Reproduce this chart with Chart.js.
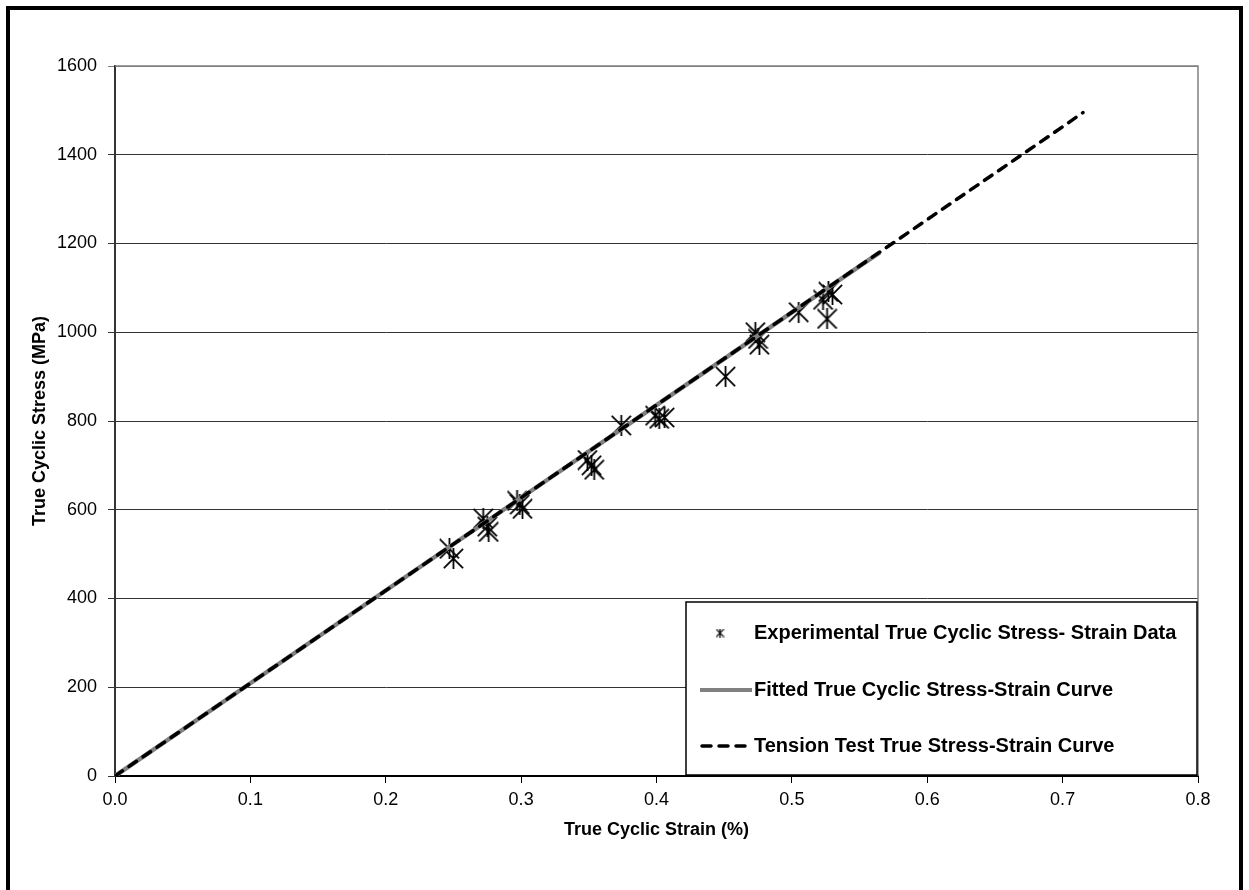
<!DOCTYPE html>
<html>

<head>
  <meta charset="UTF-8">
  <title>True Cyclic Stress-Strain</title>
  <style>
    body {
      margin: 0;
      background: #ffffff;
    }
  </style>
</head>

<script src="https://cdn.jsdelivr.net/npm/chart.js@4.4.0/dist/chart.umd.min.js"></script>

<body>

  <canvas id="myChart" width="1249" height="890"></canvas>

  <script>

    // experimental points (strain %, stress MPa)
    var expStrain = [0.247, 0.250, 0.272, 0.275, 0.276, 0.297, 0.299, 0.301, 0.349, 0.352, 0.354, 0.374,
      0.399, 0.402, 0.406, 0.451, 0.473, 0.475, 0.476, 0.505, 0.523, 0.527, 0.526, 0.530];
    var expStress = [512, 490, 580, 562, 550, 620, 612, 602, 712, 700, 690, 790,
      812, 805, 808, 900, 1000, 985, 972, 1045, 1073, 1091, 1030, 1085];

    // fitted cyclic curve
    var fitStrain = [0, 0.1, 0.2, 0.3, 0.4, 0.5, 0.565];
    var fitStress = [0, 209, 418, 627, 836, 1045, 1180];

    // tension test curve
    var tenStrain = [0, 0.1, 0.2, 0.3, 0.4, 0.5, 0.6, 0.7, 0.715];
    var tenStress = [0, 209, 418, 627, 836, 1045, 1254, 1463, 1495];

    var legendLabels = [
      "Experimental True Cyclic Stress- Strain Data",
      "Fitted True Cyclic Stress-Strain Curve",
      "Tension Test True Stress-Strain Curve"
    ];

    function toPoints(xs, ys) {
      var pts = [];
      for (var i = 0; i < xs.length; i++) {
        pts.push({ x: xs[i], y: ys[i] });
      }
      return pts;
    }

    // asterisk marker: an X with a vertical bar
    function makeStar(size, lw) {
      var c = document.createElement("canvas");
      c.width = size;
      c.height = size;
      var g = c.getContext("2d");
      g.strokeStyle = "#000";
      g.lineWidth = lw;
      var p = lw / 2;
      g.beginPath();
      g.moveTo(p, p); g.lineTo(size - p, size - p);
      g.moveTo(size - p, p); g.lineTo(p, size - p);
      g.moveTo(size / 2, 0); g.lineTo(size / 2, size);
      g.stroke();
      return c;
    }

    var bigStar = makeStar(21, 1.8);
    var smallStar = makeStar(9, 1.3);

    var FONT = "'Liberation Sans', Arial, sans-serif";

    var framePlugin = {
      id: "frame",
      beforeDraw: function (chart) {
        var ctx = chart.ctx;
        ctx.save();
        ctx.fillStyle = "#fff";
        ctx.fillRect(0, 0, chart.width, chart.height);
        ctx.restore();
      },
      afterDraw: function (chart) {
        var ctx = chart.ctx;
        var a = chart.chartArea;
        ctx.save();
        // outer frame
        ctx.strokeStyle = "#000";
        ctx.lineWidth = 4;
        ctx.strokeRect(8, 8, 1233, 892);

        // plot top/right border
        ctx.strokeStyle = "#808080";
        ctx.lineWidth = 1.5;
        ctx.beginPath();
        ctx.moveTo(a.left, a.top);
        ctx.lineTo(a.right, a.top);
        ctx.lineTo(a.right, a.bottom);
        ctx.stroke();

        // legend box
        var bx = 686, by = 602, bw = 511, bh = 173;
        ctx.fillStyle = "#fff";
        ctx.fillRect(bx, by, bw, bh);
        ctx.strokeStyle = "#000";
        ctx.lineWidth = 1.5;
        ctx.strokeRect(bx, by, bw, bh);

        var rows = [633, 690, 746];
        ctx.drawImage(smallStar, 720 - 4.5, rows[0] - 4.5);

        ctx.strokeStyle = "#808080";
        ctx.lineWidth = 4;
        ctx.beginPath();
        ctx.moveTo(700, rows[1]);
        ctx.lineTo(752, rows[1]);
        ctx.stroke();

        ctx.strokeStyle = "#000";
        ctx.lineWidth = 3.5;
        ctx.lineCap = "round";
        ctx.setLineDash([9, 8]);
        ctx.beginPath();
        ctx.moveTo(702, rows[2]);
        ctx.lineTo(745, rows[2]);
        ctx.stroke();
        ctx.setLineDash([]);

        ctx.fillStyle = "#000";
        ctx.font = "bold 20px " + FONT;
        ctx.textBaseline = "middle";
        ctx.textAlign = "left";
        for (var i = 0; i < legendLabels.length; i++) {
          ctx.fillText(legendLabels[i], 754, rows[i]);
        }
        ctx.restore();
      }
    };

    new Chart("myChart", {
      type: "scatter",
      data: {
        datasets: [{
          label: legendLabels[0],
          data: toPoints(expStrain, expStress),
          pointStyle: bigStar,
          pointRadius: 10,
          order: 3
        }, {
          label: legendLabels[1],
          data: toPoints(fitStrain, fitStress),
          showLine: true,
          borderColor: "#808080",
          borderWidth: 4.5,
          pointRadius: 0,
          order: 2
        }, {
          label: legendLabels[2],
          data: toPoints(tenStrain, tenStress),
          showLine: true,
          borderColor: "#000",
          borderWidth: 3.5,
          borderDash: [9, 8],
          borderCapStyle: "round",
          pointRadius: 0,
          order: 1
        }]
      },
      options: {
        responsive: false,
        animation: false,
        layout: { padding: { top: 66, right: 51, left: 0, bottom: 0 } },
        plugins: {
          legend: { display: false },
          tooltip: { enabled: false }
        },
        scales: {
          x: {
            type: "linear",
            min: 0,
            max: 0.8,
            afterFit: function (s) { s.height = 114; },
            border: { color: "#000", width: 2 },
            grid: { drawOnChartArea: false, tickLength: 7, color: "#000" },
            ticks: {
              stepSize: 0.1,
              padding: 6,
              color: "#000",
              font: { family: FONT, size: 18 },
              callback: function (v) { return v.toFixed(1); }
            },
            title: {
              display: true,
              text: "True Cyclic Strain (%)",
              color: "#000",
              font: { family: FONT, size: 18, weight: "bold" },
              padding: { bottom: 49 }
            }
          },
          y: {
            min: 0,
            max: 1600,
            afterFit: function (s) { s.width = 115; },
            border: { color: "#333", width: 2 },
            grid: {
              tickLength: 7,
              color: function (c) { return c.tick && c.tick.value === 1600 ? "#808080" : "#333"; }
            },
            ticks: {
              stepSize: 200,
              padding: 11,
              color: "#000",
              font: { family: FONT, size: 18 },
              callback: function (v) { return String(v); }
            },
            title: {
              display: true,
              text: "True Cyclic Stress (MPa)",
              color: "#000",
              font: { family: FONT, size: 18, weight: "bold" },
              padding: { top: 29 }
            }
          }
        }
      },
      plugins: [framePlugin]
    });

  </script>

</body>

</html>
